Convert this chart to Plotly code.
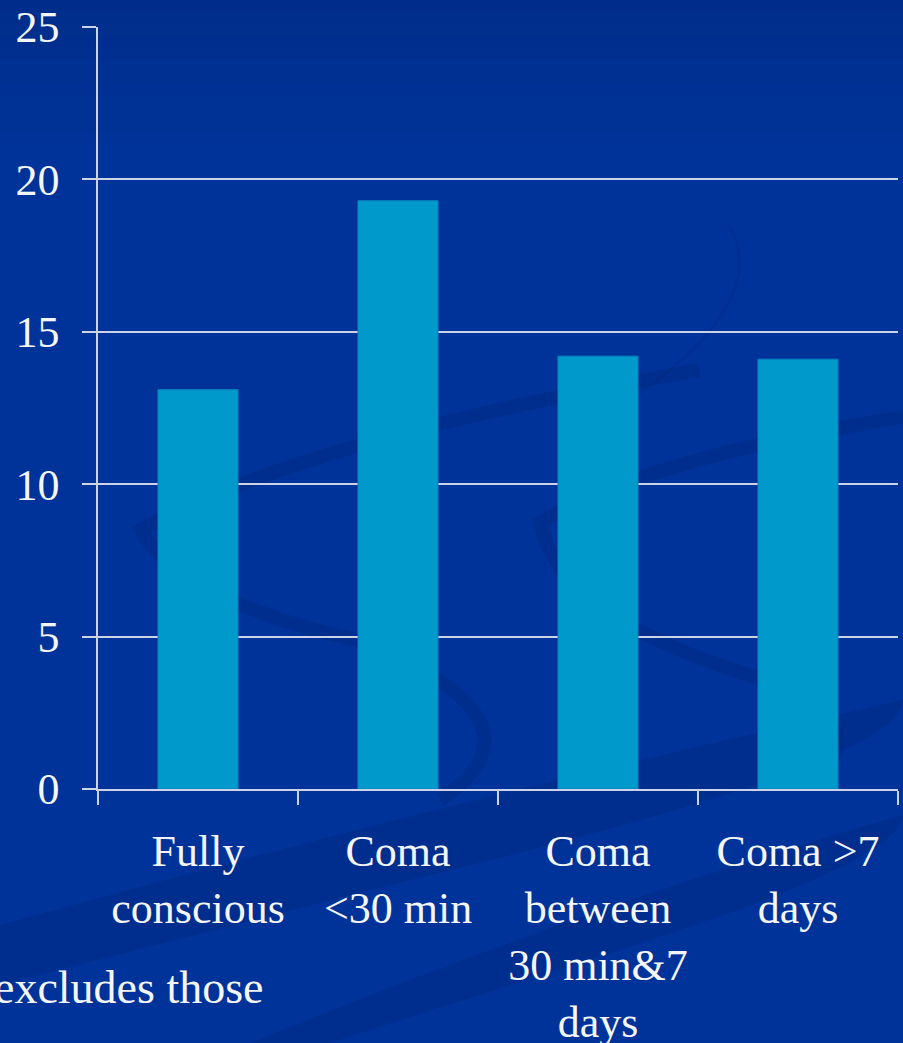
import plotly.graph_objects as go

# Chart data
categories = ["Fully<br>conscious", "Coma<br><30 min", "Coma<br>between<br>30 min&7<br>days", "Coma >7<br>days"]
values = [13.1, 19.3, 14.2, 14.1]
y_ticks = [0, 5, 10, 15, 20, 25]

W, H = 903, 1043
L, R, T, B = 98, 5, 27, 254

BG = "#003399"
BAR = "#0099cc"
TXT = "#f4f6fb"
GRID = "#cdd3e6"
FONT = "Liberation Serif, Times New Roman, serif"


def px(x, y):
    """Convert window pixels to paper coordinates."""
    pw = W - L - R
    ph = H - T - B
    return (x - L) / pw, (H - B - y) / ph


def path_from(points):
    pts = [px(x, y) for x, y in points]
    d = "M {:.4f},{:.4f}".format(*pts[0])
    rest = pts[1:]
    for i in range(0, len(rest) - 1, 2):
        d += " Q {:.4f},{:.4f} {:.4f},{:.4f}".format(*rest[i], *rest[i + 1])
    if len(rest) % 2 == 1:
        d += " L {:.4f},{:.4f}".format(*rest[-1])
    return d


shapes = []

# soft darkening toward the top of the slide
for i in range(12):
    y0 = i * 12
    x0p, y0p = px(0, y0)
    x1p, y1p = px(W, y0 + 12)
    shapes.append(dict(type="rect", xref="paper", yref="paper", layer="below",
                       x0=x0p, x1=x1p, y0=y0p, y1=y1p, line=dict(width=0),
                       fillcolor="rgba(0,20,70,{:.3f})".format(0.16 * (1 - i / 12))))

dark = "rgba(0,25,90,0.16)"
dark2 = "rgba(0,25,90,0.16)"

# diagonal sweeping bands across the lower part
shapes.append(dict(type="path", xref="paper", yref="paper", layer="below",
                   path=path_from([(0, 925), (450, 800), (903, 700), (903, 760),
                                   (450, 870), (0, 985)]) + " Z",
                   fillcolor=dark2, line=dict(width=0)))
shapes.append(dict(type="path", xref="paper", yref="paper", layer="below",
                   path=path_from([(250, 1043), (600, 900), (903, 815), (903, 860),
                                   (620, 950), (330, 1043)]) + " Z",
                   fillcolor=dark2, line=dict(width=0)))

# curled ribbons
ribbon = dict(type="path", xref="paper", yref="paper", layer="below",
              fillcolor="rgba(0,0,0,0)")
shapes.append(dict(ribbon, path=path_from([(700, 370), (300, 440), (141, 530),
                                           (180, 600), (356, 640), (560, 720),
                                           (440, 800)]),
                   line=dict(color=dark, width=14)))
shapes.append(dict(ribbon, path=path_from([(903, 417), (640, 460), (540, 523),
                                           (560, 620), (766, 680), (870, 720),
                                           (820, 780)]),
                   line=dict(color=dark, width=14)))
shapes.append(dict(ribbon, path=path_from([(730, 227), (770, 300), (640, 393)]),
                   line=dict(color="rgba(0,25,90,0.12)", width=3)))

fig = go.Figure(go.Bar(
    x=categories,
    y=values,
    width=0.4,
    marker=dict(color=BAR, line=dict(color="#0a84c0", width=1)),
))

fig.update_layout(
    width=W,
    height=H,
    autosize=False,
    margin=dict(l=L, r=R, t=T, b=B, pad=0),
    paper_bgcolor=BG,
    plot_bgcolor="rgba(0,0,0,0)",
    font=dict(family=FONT, color=TXT, size=44),
    showlegend=False,
    shapes=shapes,
    annotations=[dict(
        text="excludes those", xref="paper", yref="paper",
        x=px(266, 0)[0], y=px(0, 987)[1], xanchor="right", yanchor="middle",
        showarrow=False, font=dict(family=FONT, size=46, color=TXT),
    )],
)

fig.update_xaxes(
    type="category",
    automargin=False,
    showgrid=False,
    showline=True, linecolor=GRID, linewidth=1.5,
    ticks="outside", tickson="boundaries", ticklen=14, tickwidth=1.5, tickcolor=GRID,
    tickfont=dict(family=FONT, size=44, color=TXT),
    ticklabelstandoff=22,
    tickangle=0,
)
fig.update_yaxes(
    range=[0, 25],
    automargin=False,
    tickvals=y_ticks,
    showgrid=True, gridcolor=GRID, gridwidth=1.5,
    showline=True, linecolor=GRID, linewidth=1.5,
    ticks="outside", ticklen=14, tickwidth=1.5, tickcolor=GRID,
    tickfont=dict(family=FONT, size=44, color=TXT),
    ticklabelstandoff=14,
    zeroline=False,
)

fig.write_html("out.html")
